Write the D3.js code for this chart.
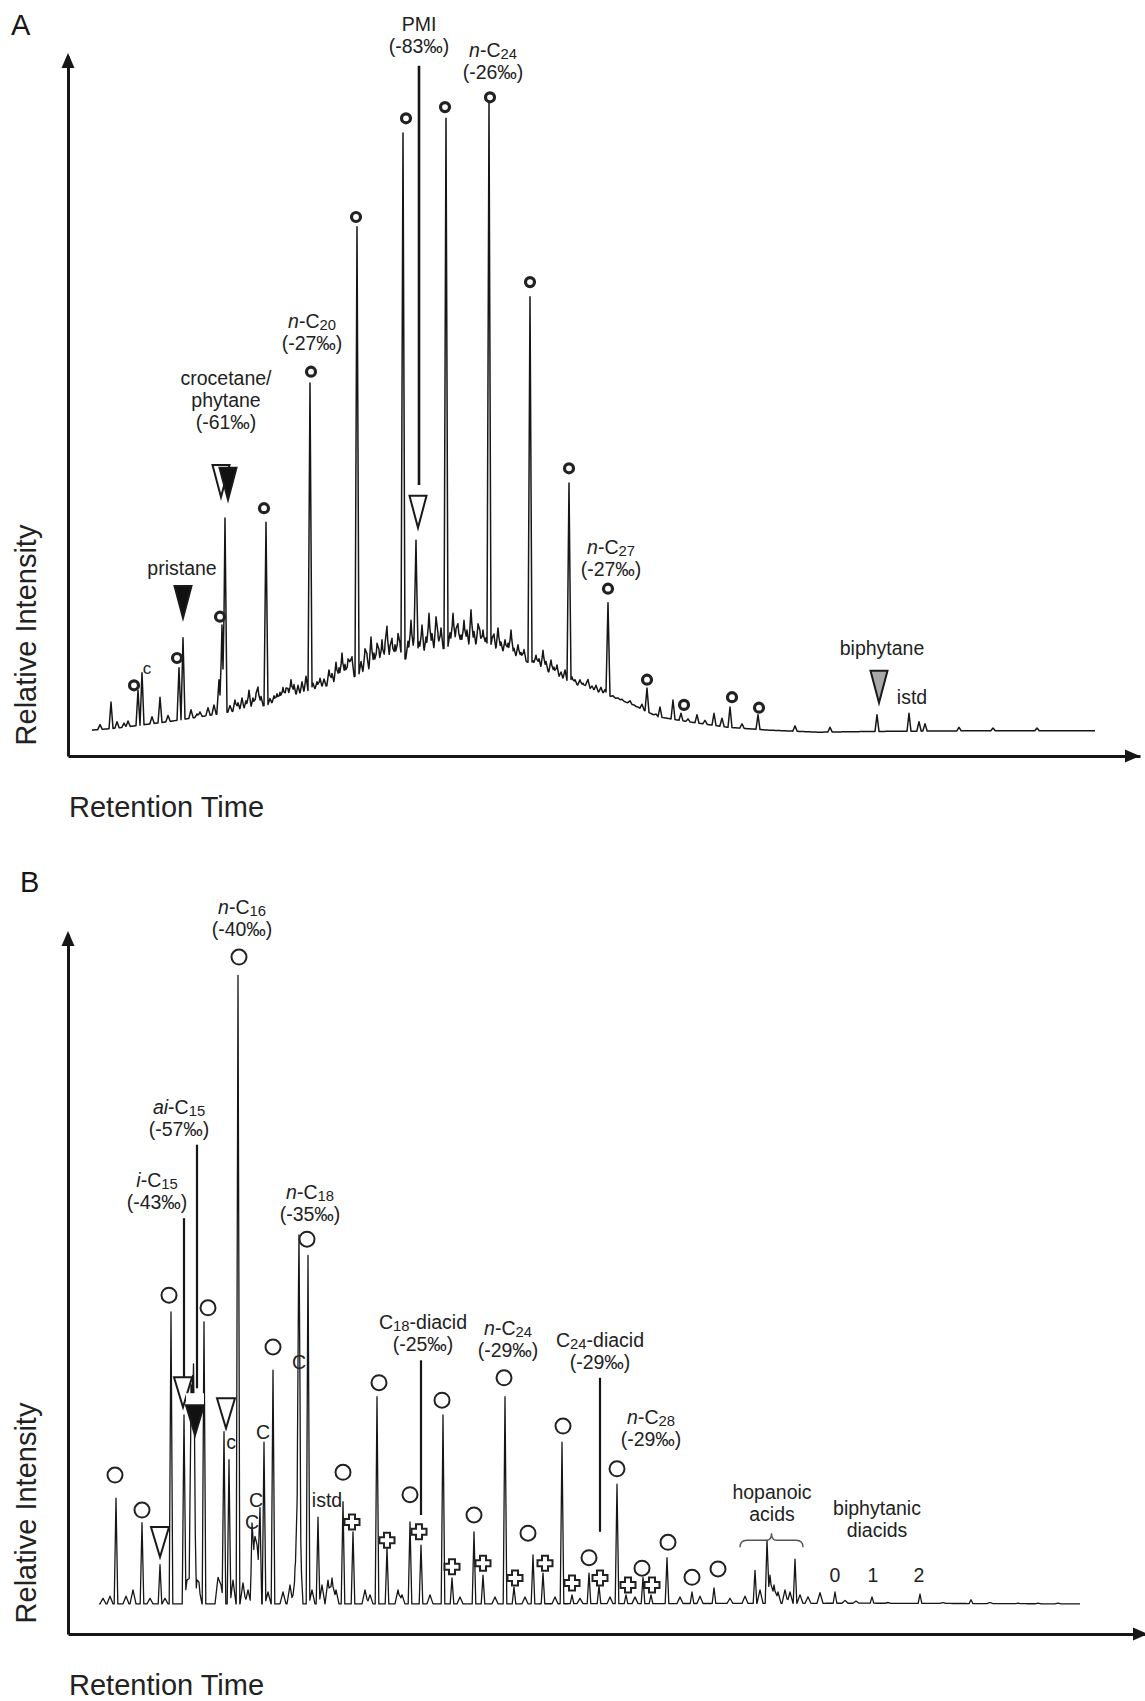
<!DOCTYPE html>
<html><head><meta charset="utf-8">
<script src="https://cdn.jsdelivr.net/npm/d3@7"></script>
<style>
body{margin:0;background:#fff;}
svg{display:block;font-family:"Liberation Sans",Arial,Helvetica,sans-serif;}
</style></head><body>
<svg id="chart" width="1145" height="1701"></svg>
<script>
// ---------------- Panel A data (retention time units, relative intensity 0-100) ----------------
const baselineA = [[2.4,3.7],[5,4.0],[10,4.9],[15,6.0],[20,7.3],[25,9.6],[30,12.0],[35,14.5],[38,15.5],[41,15.6],[44,14.6],[47,12.8],[50,10.6],[53,9.2],[56,7.6],[59,5.6],[62,4.9],[66,4.1],[70,3.7],[75,3.4],[80,3.5],[90,3.6],[102.7,3.6]];
const peaksA = [[4.3,7.7],[7.0,9.4],[7.4,11.9],[9.2,8.4],[11.1,12.6],[11.5,16.9],[15.4,18.7],[15.7,34.0],[19.8,33.4],[24.2,53.3],[28.9,75.6],[33.5,89.0],[34.8,30.6],[37.8,91.1],[42.1,93.3],[46.2,65.6],[50.1,39.0],[54.0,21.9],[57.9,9.7],[59.2,7.0],[60.5,8.0],[61.3,6.1],[62.9,5.9],[64.6,6.1],[66.2,7.0],[69.0,5.9],[80.9,5.9],[84.1,6.1]];
const noiseA = [[3.2,4.5],[4.9,4.9],[5.6,4.7],[6.0,5.0],[8.4,5.6],[10.0,5.8],[12.3,6.6],[12.9,6.0],[13.2,6.3],[14.0,6.9],[14.6,7.3],[15.1,10.9],[16.2,7.2],[16.7,8.0],[17.0,7.6],[17.4,8.3],[17.8,7.9],[18.1,9.4],[18.5,8.3],[18.8,8.7],[19.0,9.7],[19.3,8.5],[20.2,8.2],[20.6,8.6],[20.9,8.9],[21.2,9.1],[21.5,9.8],[21.8,9.6],[22.0,9.5],[22.3,10.9],[22.6,10.2],[23.0,10.1],[23.4,10.6],[23.8,11.4],[24.5,10.4],[24.9,10.6],[25.2,11.1],[25.6,11.0],[26.1,12.3],[26.4,11.8],[26.8,13.4],[27.1,12.6],[27.4,14.7],[27.7,13.1],[28.0,13.7],[28.2,13.2],[28.4,14.0],[29.3,13.5],[29.7,15.1],[29.9,14.3],[30.3,17.0],[30.6,14.7],[30.9,15.9],[31.1,14.9],[31.4,16.6],[31.7,15.6],[31.9,18.3],[32.2,15.4],[32.4,16.6],[32.7,15.9],[33.0,17.3],[33.2,15.8],[34.0,16.4],[34.3,19.4],[34.6,16.8],[35.1,16.3],[35.4,18.7],[35.8,17.0],[36.1,20.4],[36.4,17.5],[36.8,19.7],[37.0,17.1],[37.3,18.3],[38.2,17.6],[38.5,20.4],[38.8,17.9],[39.0,18.7],[39.3,17.3],[39.6,19.4],[39.9,18.0],[40.3,20.9],[40.6,17.8],[41.0,18.7],[41.2,17.6],[41.5,18.0],[41.8,16.9],[42.4,16.6],[42.6,17.3],[43.0,18.3],[43.3,16.3],[43.7,16.6],[44.0,16.1],[44.3,18.0],[44.6,15.4],[45.0,15.9],[45.3,14.8],[45.6,15.2],[46.5,13.6],[46.8,14.4],[47.1,13.9],[47.5,15.1],[47.8,13.5],[48.3,13.7],[48.6,12.7],[48.9,13.0],[49.3,12.0],[49.7,12.3],[50.4,11.3],[50.7,10.9],[51.2,10.9],[51.5,10.4],[51.8,10.2],[52.0,10.9],[52.4,10.0],[52.8,10.1],[53.3,9.8],[53.7,9.5],[54.5,8.6],[55.0,8.3],[55.4,8.1],[55.8,7.7],[56.2,7.9],[56.6,7.3],[57.0,7.0],[57.4,7.4],[58.8,6.0],[62.0,5.3],[63.7,5.1],[65.4,5.4],[67.4,4.6],[72.7,4.3],[76.2,4.1],[85.1,4.9],[85.7,4.6],[89.1,4.1],[92.5,4.0],[96.9,4.0]];
const circlesA = [[6.6,10.1],[10.9,14.0],[15.2,19.9],[19.6,35.4],[24.3,54.9],[28.8,77.0],[33.8,91.1],[37.7,92.7],[42.2,94.1],[46.2,67.7],[50.1,41.1],[54.0,23.9],[57.9,10.9],[61.6,7.3],[66.4,8.4],[69.1,6.9]];
const trianglesA = [{t:11.5,I:19.7,kind:"filled"},{t:15.3,I:37.0,kind:"open"},{t:16.0,I:36.6,kind:"filled"},{t:35.0,I:32.6,kind:"open"},{t:81.1,I:7.6,kind:"gray"}];
const leadersA = [{t:35.1,from:98.6,to:38.7}];
const labelsA = [
  {t:35.1,I:104.6,lines:["PMI","(-83‰)"]},
  {t:42.5,I:100.9,lines:["*n*-C~24~","(-26‰)"]},
  {t:24.4,I:62.1,lines:["*n*-C~20~","(-27‰)"]},
  {t:15.8,I:54.0,lines:["crocetane/","phytane","(-61‰)"]},
  {t:11.4,I:26.9,lines:["pristane"]},
  {t:54.3,I:29.9,lines:["*n*-C~27~","(-27‰)"]},
  {t:81.4,I:15.4,lines:["biphytane"]},
  {t:84.4,I:8.4,lines:["istd"]},
  {t:7.9,I:12.7,lines:["c"],small:true}
];

// ---------------- Panel B data ----------------
const baselineB = [[3.1,4.3],[40,4.3],[80,4.4],[101.2,4.3]];
const peaksB = [[4.8,19.4],[7.4,15.9],[9.2,9.9],[10.3,46.0],[11.6,31.3],[12.3,29.9],[12.45,23.7],[12.55,23.0],[12.65,20.0],[13.6,44.6],[15.6,28.9],[16.1,24.9],[17.0,94.1],[18.4,14.1],[19.2,16.7],[19.6,27.4],[20.5,37.7],[23.1,37.7],[24.0,54.1],[25.0,16.7],[27.5,18.9],[28.5,14.6],[30.9,33.9],[31.9,12.3],[34.2,16.0],[35.3,12.7],[37.5,31.3],[38.4,8.0],[40.6,14.6],[41.5,8.4],[43.7,33.9],[44.6,6.7],[46.5,11.3],[47.5,8.7],[49.4,27.4],[50.4,5.6],[52.1,8.7],[53.1,6.9],[54.9,21.4],[55.8,5.6],[57.5,8.1],[58.3,5.6],[59.9,10.9],[62.4,6.0],[64.6,6.6],[68.7,9.1],[69.9,13.4],[72.7,10.7],[76.7,6.0],[80.4,5.3],[85.2,5.7],[90.3,4.9]];
const noiseB = [[3.5,5.1],[4.2,5.4],[5.8,5.4],[6.5,6.3],[8.2,5.1],[9.7,5.1],[11.9,7.7],[12.2,8.0],[12.9,7.0],[13.1,6.5],[15.0,8.1],[15.3,7.0],[16.5,7.7],[17.5,7.3],[18.0,6.3],[18.6,9.6],[18.7,9.0],[18.9,8.5],[19.0,8.4],[20.0,6.0],[21.5,6.0],[22.2,7.0],[22.7,8.0],[22.95,13.0],[23.05,15.3],[23.2,13.0],[24.4,6.3],[25.4,7.0],[26.0,7.7],[26.4,8.0],[26.8,6.3],[29.7,6.3],[30.2,5.6],[33.0,6.3],[33.4,5.6],[36.2,5.6],[39.2,5.3],[42.7,5.3],[45.7,5.3],[48.7,5.3],[51.2,5.1],[54.2,5.3],[56.7,5.3],[61.2,5.3],[63.2,5.4],[66.2,5.1],[67.7,5.4],[69.2,6.3],[70.2,8.4],[70.6,7.0],[71.0,6.0],[71.7,6.3],[72.2,6.0],[73.2,5.6],[74.0,5.3],[75.2,5.9],[77.7,4.8],[78.8,4.7],[82.0,4.5],[87.5,4.5],[92.2,4.5],[95.0,4.4],[97.0,4.4],[99.0,4.4]];
const circlesB = [[4.7,22.7],[7.4,17.7],[10.1,48.4],[14.0,46.6],[17.1,96.7],[20.5,41.0],[23.9,56.4],[27.5,23.1],[31.1,35.9],[34.2,19.9],[37.4,33.4],[40.6,17.0],[43.6,36.6],[46.0,14.4],[49.5,29.7],[52.1,10.9],[54.9,23.6],[57.4,9.4],[60.0,13.1],[62.4,8.1],[65.0,9.3]];
const crossesB = [[28.4,16.0],[31.9,13.4],[35.1,14.6],[38.4,9.6],[41.5,10.1],[44.7,8.0],[47.7,10.1],[50.4,7.3],[53.2,8.0],[56.0,7.0],[58.4,7.0]];
const trianglesB = [{t:9.2,I:11.0,kind:"open"},{t:11.5,I:32.4,kind:"open"},{t:12.7,I:28.4,kind:"filled"},{t:15.8,I:29.4,kind:"open"}];
const leadersB = [{t:11.6,from:59.4,to:36.7},{t:12.9,from:69.9,to:35.1},{t:35.3,from:39.1,to:17.0},{t:53.2,from:36.6,to:14.6}];
const labelsB = [
  {t:17.4,I:103.9,lines:["*n*-C~16~","(-40‰)"]},
  {t:11.1,I:75.3,lines:["*ai*-C~15~","(-57‰)"]},
  {t:8.9,I:64.9,lines:["*i*-C~15~","(-43‰)"]},
  {t:24.2,I:63.1,lines:["*n*-C~18~","(-35‰)"]},
  {t:35.5,I:44.6,lines:["C~18~-diacid","(-25‰)"]},
  {t:44.0,I:43.7,lines:["*n*-C~24~","(-29‰)"]},
  {t:53.2,I:42.0,lines:["C~24~-diacid","(-29‰)"]},
  {t:58.3,I:31.0,lines:["*n*-C~28~","(-29‰)"]},
  {t:70.4,I:20.3,lines:["hopanoic","acids"]},
  {t:80.9,I:18.0,lines:["biphytanic","diacids"]},
  {t:76.7,I:8.4,lines:["0"]},{t:80.5,I:8.4,lines:["1"]},{t:85.1,I:8.4,lines:["2"]},
  {t:25.9,I:19.1,lines:["istd"]},
  {t:16.3,I:27.4,lines:["c"]},{t:18.4,I:16.0,lines:["C"]},{t:18.8,I:19.1,lines:["C"]},
  {t:19.5,I:28.9,lines:["C"]},{t:23.1,I:38.9,lines:["C"]}
];
const braceB = {from:67.2,to:73.5,I:13.4};

const axisTitleY = "Relative Intensity";
const axisTitleX = "Retention Time";

// ---------------- drawing ----------------
const svg = d3.select("#chart");
svg.append("rect").attr("width",1145).attr("height",1701).attr("fill","#fff");
const INK = "#161616";

function richText(textSel, str, fs) {
  const toks = str.match(/(\*[^*]+\*|~[^~]+~|[^*~]+)/g);
  let shift = 0;
  toks.forEach(tok => {
    const ts = textSel.append("tspan");
    if (tok[0] === "*") { ts.attr("font-style","italic").text(tok.slice(1,-1)); if (shift){ts.attr("dy",-shift); shift=0;} }
    else if (tok[0] === "~") { ts.attr("font-size", fs*0.76).attr("dy", 2 - shift).text(tok.slice(1,-1)); shift = 2; }
    else { ts.text(tok); if (shift){ts.attr("dy",-shift); shift=0;} }
  });
}

function panel(cfg) {
  const x = d3.scaleLinear().domain(cfg.xDomain).range(cfg.xRange);
  const y = d3.scaleLinear().domain([0,100]).range(cfg.yRange);
  const g = svg.append("g");
  const base = d3.scaleLinear().domain(cfg.baseline.map(d=>d[0])).range(cfg.baseline.map(d=>d[1])).clamp(true);
  const t0 = cfg.baseline[0][0], t1 = cfg.baseline[cfg.baseline.length-1][0];
  const pk = cfg.peaks.map(p=>({t:p[0],h:p[1]-base(p[0]),w:cfg.w}))
     .concat(cfg.noise.map(p=>({t:p[0],h:p[1]-base(p[0]),w:cfg.nw})));
  const tset = new Set();
  const n = Math.round((t1-t0)/0.1);
  for (let i=0;i<=n;i++) tset.add(+(t0+i*0.1).toFixed(3));
  pk.forEach(p=>{[p.t-p.w,p.t,p.t+p.w].forEach(v=>{ if(v>=t0&&v<=t1) tset.add(+v.toFixed(3)); });});
  const ts = Array.from(tset).sort((a,b)=>a-b);
  const pts = ts.map(t=>{ let v=base(t); pk.forEach(p=>{const d=Math.abs(t-p.t); if(d<p.w) v+=p.h*(1-d/p.w);}); return [t,v]; });
  g.append("path").attr("d", d3.line().x(d=>x(d[0])).y(d=>y(d[1]))(pts))
    .attr("fill","none").attr("stroke",INK).attr("stroke-width",cfg.sw).attr("stroke-linejoin","round");

  // axes
  const ya = g.append("g").attr("transform",`translate(${x(0)},0)`).call(d3.axisLeft(y).tickValues([]).tickSizeOuter(0));
  ya.select(".domain").attr("stroke",INK).attr("stroke-width",3);
  const xa = g.append("g").attr("transform",`translate(0,${y(0)})`).call(d3.axisBottom(x).tickValues([]).tickSizeOuter(0));
  xa.select(".domain").attr("stroke",INK).attr("stroke-width",3);
  const ax = x(0), ay = y(0);
  const ytip = y(100) - 3;
  g.append("path").attr("d",`M${ax},${ytip}L${ax-6.5},${ytip+15}L${ax+6.5},${ytip+15}Z`).attr("fill",INK);
  const xtip = cfg.xRange[1];
  g.append("path").attr("d",`M${xtip},${ay}L${xtip-15},${ay-6.5}L${xtip-15},${ay+6.5}Z`).attr("fill",INK);

  // leaders
  cfg.leaders.forEach(l=>{
    g.append("line").attr("x1",x(l.t)).attr("x2",x(l.t)).attr("y1",y(l.from)).attr("y2",y(l.to))
      .attr("stroke",INK).attr("stroke-width",cfg.lw);
  });

  // circles
  cfg.circles.forEach(c=>{
    g.append("circle").attr("cx",x(c[0])).attr("cy",y(c[1])).attr("r",cfg.cr)
      .attr("fill","#fff").attr("stroke","#222").attr("stroke-width",cfg.csw);
  });
  // crosses
  (cfg.crosses||[]).forEach(c=>{
    const cx=x(c[0]), cy=y(c[1]), s=7.5, a=3;
    g.append("path").attr("d",`M${cx-a},${cy-s}H${cx+a}V${cy-a}H${cx+s}V${cy+a}H${cx+a}V${cy+s}H${cx-a}V${cy+a}H${cx-s}V${cy-a}H${cx-a}Z`)
      .attr("fill","#fff").attr("stroke","#222").attr("stroke-width",2);
  });
  // triangles
  cfg.triangles.forEach(tr=>{
    const tx=x(tr.t), ty=y(tr.I), hw=cfg.triW/2, h=cfg.triH;
    if (tr.kind==="filled" && cfg.triGap) {
      g.append("rect").attr("x",tx-hw).attr("y",ty-h-cfg.triGap).attr("width",cfg.triW).attr("height",cfg.triGap).attr("fill","#fff");
    }
    g.append("path").attr("d",`M${tx},${ty}L${tx-hw},${ty-h}L${tx+hw},${ty-h}Z`)
      .attr("fill", tr.kind==="filled" ? "#111" : tr.kind==="gray" ? "#a8a8a8" : "#fff")
      .attr("stroke","#1a1a1a").attr("stroke-width",2).attr("stroke-linejoin","miter");
  });
  // brace
  if (cfg.brace) {
    const b=cfg.brace, xa0=x(b.from), xa1=x(b.to), xm=(xa0+xa1)/2, by=y(b.I);
    g.append("path").attr("d",`M${xa0},${by+7}Q${xa0},${by} ${xa0+7},${by}L${xm-5},${by}Q${xm},${by} ${xm},${by-7}Q${xm},${by} ${xm+5},${by}L${xa1-7},${by}Q${xa1},${by} ${xa1},${by+7}`)
      .attr("fill","none").attr("stroke","#555").attr("stroke-width",1.4);
  }
  // labels
  cfg.labels.forEach(l=>{
    const fs = l.small ? 17 : 19.5;
    l.lines.forEach((ln,i)=>{
      const t = g.append("text").attr("x",x(l.t)).attr("y",y(l.I)+7+i*22)
        .attr("text-anchor","middle").attr("font-size",fs).attr("fill","#222");
      richText(t, ln, fs);
    });
  });

  // titles
  g.append("text").attr("x",cfg.letterPos[0]).attr("y",cfg.letterPos[1]).attr("font-size",29).attr("fill",INK).text(cfg.letter);
  g.append("text").attr("transform",`translate(36,${cfg.yTitleY}) rotate(-90)`).attr("text-anchor","middle")
    .attr("font-size",29).attr("fill","#222").text(axisTitleY);
  g.append("text").attr("x",69).attr("y",cfg.xTitleY).attr("font-size",29).attr("fill","#222").text(axisTitleX);
}

panel({xDomain:[0,107.2], xRange:[68,1140], yRange:[756,56], baseline:baselineA, peaks:peaksA, noise:noiseA,
  w:0.2, nw:0.22, sw:1.5, circles:circlesA, cr:4.5, csw:3.2, triangles:trianglesA, triW:17, triH:32,
  leaders:leadersA, lw:2.6, labels:labelsA, letter:"A", letterPos:[11,35], yTitleY:635, xTitleY:817});

panel({xDomain:[0,108], xRange:[68,1148], yRange:[1634,934], baseline:baselineB, peaks:peaksB, noise:noiseB,
  w:0.18, nw:0.3, sw:1.3, circles:circlesB, cr:7.5, csw:2, crosses:crossesB, triangles:trianglesB, triW:18, triH:30, triGap:12,
  leaders:leadersB, lw:2.2, labels:labelsB, brace:braceB, letter:"B", letterPos:[20,892], yTitleY:1513, xTitleY:1695});
</script>
</body></html>
